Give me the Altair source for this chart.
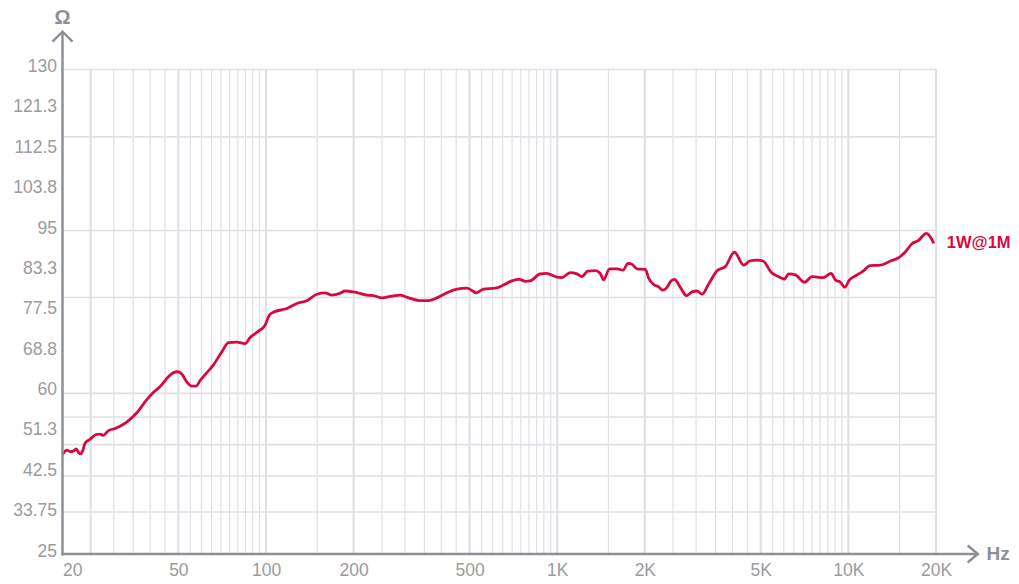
import altair as alt
import pandas as pd

# ---- data ----
freq = [20.0, 20.7, 21.3, 21.8, 22.3, 22.7, 23.1, 23.5, 23.9, 24.9,
        26.1, 26.9, 27.6, 28.7, 30.3, 32.2, 33.7, 36.0, 38.9, 41.0,
        43.3, 46.2, 48.1, 49.8, 51.4, 53.4, 55.6, 57.5, 59.4, 61.8,
        66.0, 70.5, 74.3, 79.4, 84.8, 88.2, 94.2, 99.3, 102.7, 106.0,
        117.9, 127.6, 138.1, 149.5, 159.6, 168.3, 179.7, 187.0, 199.7, 222.1,
        234.0, 250.1, 270.6, 288.9, 312.7, 338.5, 361.4, 386.3, 418.1, 452.6,
        489.8, 509.6, 527.2, 558.5, 612.7, 654.3, 699.3, 742.6, 776.8, 808.2,
        874.8, 917.3, 998.9, 1039, 1109, 1169, 1217, 1272, 1351, 1406,
        1443, 1513, 1605, 1683, 1751, 1807, 1880, 2008, 2061, 2144,
        2231, 2302, 2384, 2447, 2526, 2649, 2777, 2905, 3022, 3144,
        3313, 3541, 3781, 4060, 4372, 4584, 4860, 5096, 5441, 5765,
        6031, 6240, 6579, 7064, 7508, 7811, 8191, 8726, 9028, 9393,
        9720, 10088, 10722, 11296, 11846, 12894, 13953, 14783, 15711, 16565,
        17372, 18552, 19044, 19657]
ohm = [46.5, 47.5, 47.2, 47.3, 47.8, 47.0, 46.7, 47.5, 49.0, 49.9,
       50.9, 51.0, 50.7, 51.7, 52.2, 53.0, 53.9, 55.6, 58.4, 60.0,
       61.3, 63.4, 64.3, 64.5, 64.0, 62.3, 61.4, 61.4, 62.6, 63.9,
       66.0, 68.8, 70.8, 70.9, 70.6, 71.9, 73.3, 74.6, 76.8, 77.4,
       78.2, 79.3, 79.9, 81.3, 81.6, 81.1, 81.5, 82.0, 81.8, 81.1,
       81.0, 80.5, 80.9, 81.1, 80.4, 79.9, 79.9, 80.5, 81.6, 82.4,
       82.6, 82.1, 81.6, 82.4, 82.6, 83.3, 84.2, 84.5, 84.1, 84.2,
       85.7, 85.8, 85.0, 84.9, 86.0, 85.7, 85.1, 86.3, 86.4, 85.8,
       84.4, 86.8, 86.8, 86.5, 88.0, 87.8, 86.8, 86.7, 84.8, 83.4,
       82.9, 82.2, 82.8, 84.0, 84.5, 82.8, 81.0, 81.8, 82.0, 81.3,
       83.5, 86.4, 87.3, 90.4, 87.6, 88.5, 88.7, 88.5, 86.0, 85.1,
       84.6, 85.7, 85.5, 83.9, 85.1, 85.0, 84.9, 85.8, 84.4, 83.9,
       82.8, 84.4, 85.5, 86.4, 87.5, 87.6, 88.5, 89.1, 90.5, 92.3,
       92.9, 94.5, 93.9, 92.3]

x_tick_values = [20, 50, 100, 200, 500, 1000, 2000, 5000, 10000, 20000]
x_tick_labels = ["20", "50", "100", "200", "500", "1K", "2K", "5K", "10K", "20K"]
y_tick_values = [25, 33.75, 42.5, 51.25, 60, 68.75, 77.5, 86.25, 95, 103.75, 112.5, 121.25, 130]
y_tick_labels = ["25", "33.75", "42.5", "51.3", "60", "68.8", "77.5", "83.3", "95",
                 "103.8", "112.5", "121.3", "130"]
grid_thin_freq = [30, 35, 40, 45, 55, 60, 65, 70, 75, 80, 85, 90, 95,
                  150,
                  250, 300, 350, 400, 450, 550, 600, 650, 700, 750, 800, 850, 900, 950,
                  1500,
                  2500, 3000, 3500, 4000, 4500, 5500, 6000, 6500, 7000, 7500, 8000,
                  8500, 9000, 9500,
                  15000]
grid_thick_freq = [25, 50, 100, 200, 500, 1000, 2000, 5000, 10000, 20000]
grid_ohm = [130, 115.4, 95.1, 80.6, 59.8, 54.7, 48.7, 41.9, 34.1]
series_name = "1W@1M"
x_unit = "Hz"
y_unit = "Ω"

# ---- styles ----
AX = "#8e9096"
GRID = "#e0e0e6"
LABEL = "#9a9ba0"
RED = "#d8093c"
FONT = "Liberation Sans"

xs = alt.Scale(type="log", domain=[20, 20000], nice=False)
ys = alt.Scale(domain=[25, 130], nice=False, zero=False)

one = pd.DataFrame({"k": [0]})

x_label_expr = "%s[indexof(%s, datum.value)]" % (
    "[" + ",".join("'%s'" % s for s in x_tick_labels) + "]",
    "[" + ",".join(str(v) for v in x_tick_values) + "]")
y_label_expr = "%s[indexof(%s, datum.value)]" % (
    "[" + ",".join("'%s'" % s for s in y_tick_labels) + "]",
    "[" + ",".join(str(v) for v in y_tick_values) + "]")

x_axis = alt.Axis(
    values=x_tick_values, labelExpr=x_label_expr, domain=False, ticks=False,
    tickSize=0, grid=False, title=None, labelFont=FONT, labelFontSize=17.5,
    labelColor=LABEL, labelPadding=16, labelBaseline="middle",
    labelAlign={"expr": "datum.value <= 20 ? 'left' : 'center'"},
    labelOverlap=False)
y_axis = alt.Axis(
    values=y_tick_values, labelExpr=y_label_expr, domain=False, ticks=False,
    tickSize=0, grid=False, title=None, labelFont=FONT, labelFontSize=17.5,
    labelColor=LABEL, labelPadding=6, labelBaseline="middle", labelOffset=-3,
    labelOverlap=False)

grid_thin = alt.Chart(pd.DataFrame({"f": grid_thin_freq})).mark_rule(
    color=GRID, strokeWidth=1.2).encode(
    x=alt.X("f:Q", scale=xs, axis=x_axis),
    y=alt.YDatum(25, scale=ys, axis=y_axis),
    y2=alt.datum(130))

grid_thick = alt.Chart(pd.DataFrame({"f": grid_thick_freq})).mark_rule(
    color=GRID, strokeWidth=2.2).encode(
    x=alt.X("f:Q", scale=xs, axis=x_axis),
    y=alt.YDatum(25, scale=ys, axis=y_axis),
    y2=alt.datum(130))

grid_h = alt.Chart(pd.DataFrame({"v": grid_ohm})).mark_rule(
    color=GRID, strokeWidth=1.6).encode(
    y=alt.Y("v:Q", scale=ys, axis=y_axis),
    x=alt.XDatum(20, scale=xs, axis=x_axis),
    x2=alt.datum(20000))

y_axis_line = alt.Chart(one).mark_rule(color=AX, strokeWidth=2.5, clip=False).encode(
    x=alt.XDatum(20, scale=xs, axis=x_axis),
    y=alt.YDatum(24.7, scale=ys, axis=y_axis),
    y2=alt.datum(138.1))

x_axis_line = alt.Chart(one).mark_rule(color=AX, strokeWidth=2.5, clip=False).encode(
    y=alt.YDatum(25, scale=ys, axis=y_axis),
    x=alt.XDatum(19.85, scale=xs, axis=x_axis),
    x2=alt.datum(27700))

y_arrow = alt.Chart(one).mark_point(
    shape="M-1,0.5L0,-0.5L1,0.5", filled=False, size=400, strokeWidth=2.5,
    color=AX, opacity=1, clip=False).encode(
    x=alt.XDatum(20, scale=xs, axis=x_axis),
    y=alt.YDatum(137.1, scale=ys, axis=y_axis))

x_arrow = alt.Chart(one).mark_point(
    shape="M-0.6,-1L0.6,0L-0.6,1", filled=False, size=289, strokeWidth=2.5,
    color=AX, opacity=1, clip=False).encode(
    x=alt.XDatum(26740, scale=xs, axis=x_axis),
    y=alt.YDatum(25, scale=ys, axis=y_axis))

y_unit_text = alt.Chart(pd.DataFrame({"t": [y_unit]})).mark_text(
    font=FONT, fontSize=20, fontWeight="bold", color=AX, align="center",
    baseline="middle", clip=False).encode(
    x=alt.XDatum(20, scale=xs, axis=x_axis),
    y=alt.YDatum(141.2, scale=ys, axis=y_axis),
    text="t:N")

x_unit_text = alt.Chart(pd.DataFrame({"t": [x_unit]})).mark_text(
    font=FONT, fontSize=19, fontWeight="bold", color=AX, align="center",
    baseline="middle", clip=False).encode(
    x=alt.XDatum(32670, scale=xs, axis=x_axis),
    y=alt.YDatum(25, scale=ys, axis=y_axis),
    text="t:N")

curve_df = pd.DataFrame({"freq": freq, "ohm": ohm})

curve = alt.Chart(curve_df).mark_line(
    color=RED, strokeWidth=2.8, interpolate="monotone", clip=False).encode(
    x=alt.X("freq:Q", scale=xs, axis=x_axis),
    y=alt.Y("ohm:Q", scale=ys, axis=y_axis))

end_label = alt.Chart(pd.DataFrame({
    "freq": [freq[-1]], "ohm": [ohm[-1]], "t": [series_name]})).mark_text(
    font=FONT, fontSize=16.5, fontWeight="bold", color=RED, align="left",
    baseline="middle", dx=13, clip=False).encode(
    x=alt.X("freq:Q", scale=xs, axis=x_axis),
    y=alt.Y("ohm:Q", scale=ys, axis=y_axis),
    text="t:N")

chart = alt.layer(
    grid_thin, grid_thick, grid_h, curve, y_axis_line, x_axis_line,
    y_arrow, x_arrow, y_unit_text, x_unit_text, end_label
).properties(
    width=873.5, height=484.5,
    autosize=alt.AutoSizeParams(type="none"),
    padding={"left": 54.5, "top": 61.5, "right": 75, "bottom": 22},
    background="white"
).configure_view(stroke="transparent")

chart.save("out.html", embed_options={"renderer": "svg", "actions": False})
